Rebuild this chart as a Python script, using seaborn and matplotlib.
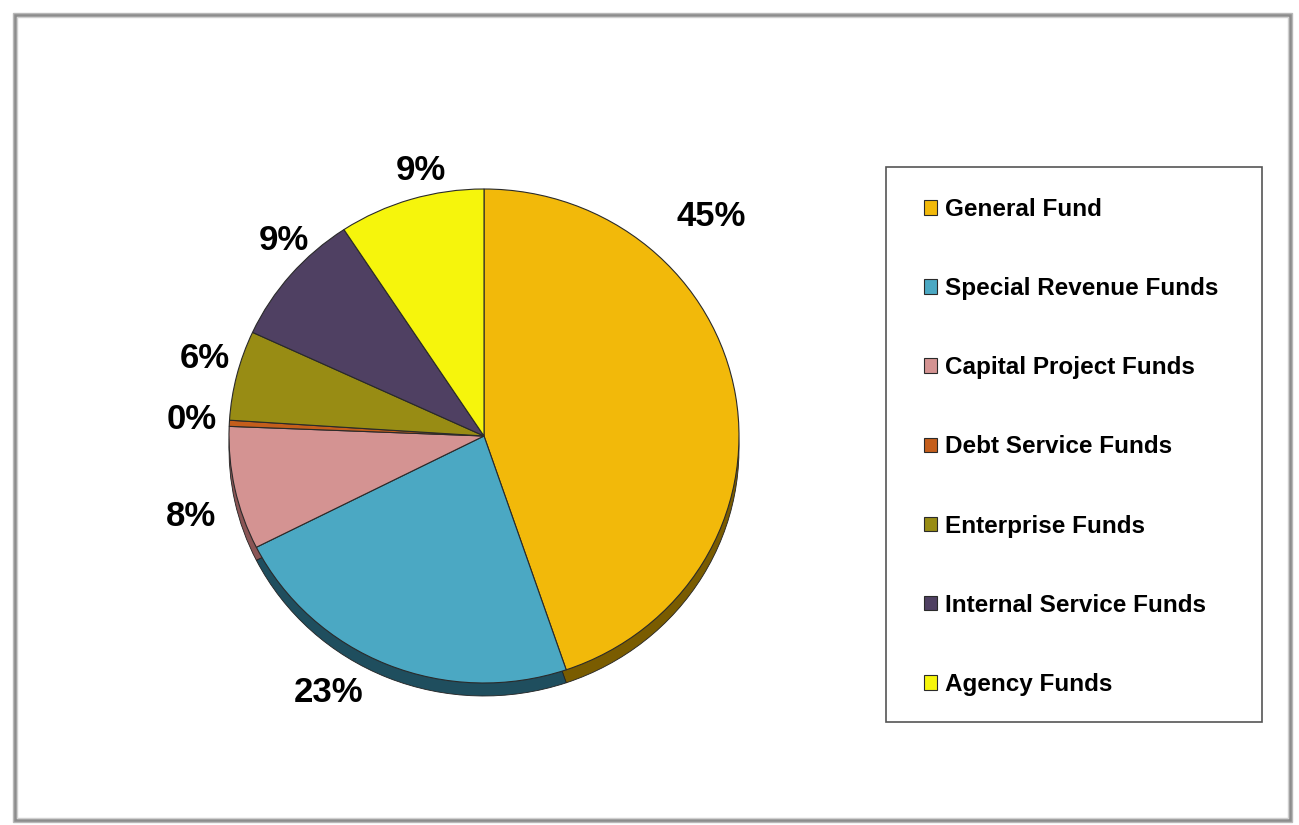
import matplotlib
matplotlib.use("Agg")
import matplotlib.pyplot as plt
import seaborn as sns
import numpy as np
from matplotlib.patches import Rectangle

# ---- data ----
categories = ["General Fund", "Special Revenue Funds", "Capital Project Funds",
              "Debt Service Funds", "Enterprise Funds", "Internal Service Funds",
              "Agency Funds"]
values = [45.0, 22.9, 8.1, 0.4, 5.9, 8.9, 9.3]
pct_labels = ["45%", "23%", "8%", "0%", "6%", "9%", "9%"]

# ---- style ----
colors = ["#F2B90A", "#4BA8C3", "#D49392", "#C45E1C", "#988C14", "#4F4062", "#F6F50C"]
side_colors = ["#7A5C00", "#1F4E5E", "#8A5555", "#6A3008", "#5A520A", "#2A2036", "#8A8A00"]

sns.set_theme(style="white")
plt.rcParams['font.family'] = ['Liberation Sans', 'DejaVu Sans']
plt.rcParams['text.color'] = 'black'

W, H = 1299, 825
fig = plt.figure(figsize=(W / 100, H / 100), dpi=100)
fig.patch.set_facecolor("white")

# frame
for off, col, lw in [(0, "#B8B8B8", 1.0), (2, "#8C8C8C", 2.0), (4, "#D0D0D0", 1.0)]:
    fig.add_artist(Rectangle(((13 + off) / W, (H - 822 + off) / H),
                             (1292 - 13 - 2 * off) / W, (822 - 13 - 2 * off) / H,
                             transform=fig.transFigure, fill=False,
                             edgecolor=col, linewidth=lw))

ax = fig.add_axes([0, 0, 1, 1])
ax.set_axis_off()
rx, ry = 255.0, 247.0
ytop = H * rx / ry
cx = 484.0
cy = (H - 436.0) * ytop / H
depth = 13.0 * ytop / H

# side (3D depth) pie
ax.pie(values, colors=side_colors, startangle=90, counterclock=False,
       center=(cx, cy - depth), radius=rx,
       wedgeprops=dict(edgecolor="#222222", linewidth=0.6), frame=True)
# top face
wedges, _ = ax.pie(values, colors=colors, startangle=90, counterclock=False,
                   center=(cx, cy), radius=rx,
                   wedgeprops=dict(edgecolor="#2A2A2A", linewidth=0.8), frame=True)
ax.set_xlim(0, W)
ax.set_ylim(0, ytop)
ax.set_aspect("auto")
ax.set_axis_off()

# percentage labels (pixel layout positions)
label_pos = [(711, 216), (329, 693), (191, 516), (192, 419), (205, 358), (284, 241), (421, 171)]
for txt, (px, py) in zip(pct_labels, label_pos):
    fig.text(px / W, 1 - py / H, txt, fontsize=25, fontweight="bold",
             ha="center", va="center", color="black")

# legend frame
fig.add_artist(Rectangle((886 / W, 1 - 722 / H), (1262 - 886) / W, (722 - 167) / H,
                         transform=fig.transFigure, fill=False,
                         edgecolor="#555555", linewidth=1.2))

leg = fig.legend(wedges, categories, loc="upper left",
                 bbox_to_anchor=(924 / W, 1 - 198 / H),
                 frameon=False,
                 prop=dict(size=17.5, weight="bold"),
                 handlelength=0.55, handleheight=0.55, handletextpad=0.3,
                 labelspacing=2.31, borderpad=0, borderaxespad=0)
for t in leg.get_texts():
    t.set_color("black")

fig.savefig("out.png", dpi=100, facecolor="white")
